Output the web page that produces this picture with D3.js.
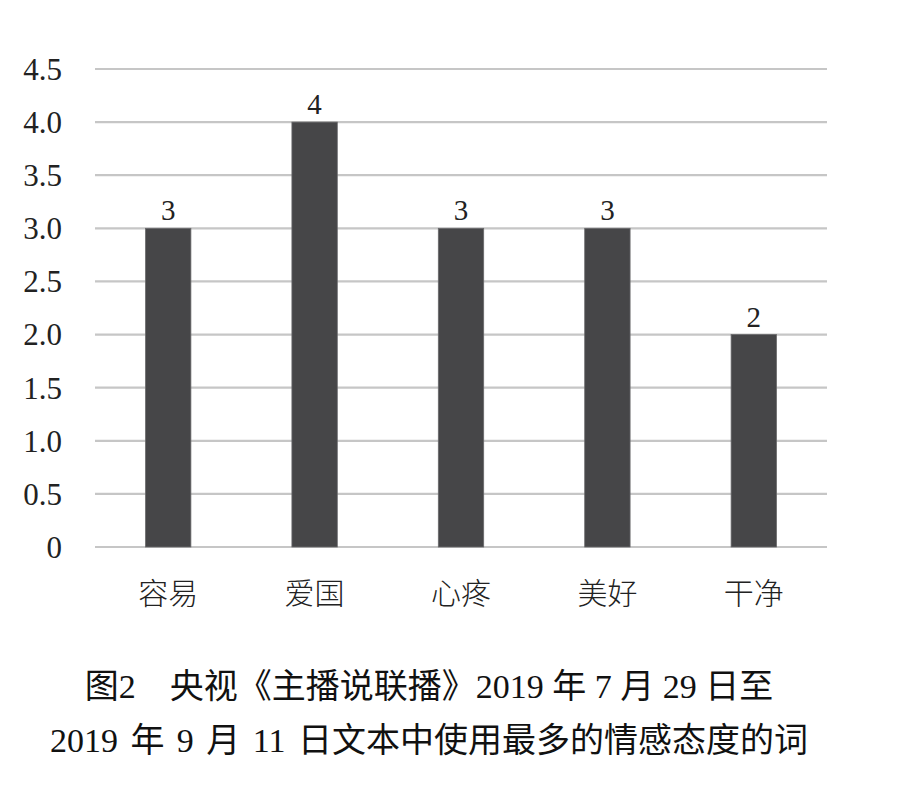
<!DOCTYPE html>
<html lang="zh">
<head>
<meta charset="UTF-8">
<title>情感态度词柱状图</title>
<script src="https://d3js.org/d3.v7.min.js"></script>
<style>
    body { margin: 0; background: #fff; }
    .tick-label { font-family: "Liberation Serif", "Times New Roman", Times, serif; font-size: 31px; fill: #222; }
    .value-label { font-family: "Liberation Serif", "Times New Roman", Times, serif; font-size: 29px; fill: #222; }
    .cat-label { font-family: "Noto Sans CJK SC", sans-serif; font-weight: 300; font-size: 30px; fill: #222; }
    .caption { font-family: "Liberation Serif", "Times New Roman", "Noto Sans CJK SC", serif; font-size: 34px; fill: #111; }
</style>
</head>
<body>
<svg width="920" height="788"></svg>
<script>
    // 数据
    const categories = ["容易", "爱国", "心疼", "美好", "干净"];
    const counts = [3, 4, 3, 3, 2];
    const yTicks = [0, 0.5, 1.0, 1.5, 2.0, 2.5, 3.0, 3.5, 4.0, 4.5];
    const captionLines = [
        "图2\u3000央视《主播说联播》2019 年 7 月 29 日至",
        "2019 年 9 月 11 日文本中使用最多的情感态度的词"
    ];

    const svg = d3.select("svg");
    const margin = { top: 69, right: 93, bottom: 241, left: 95 };
    const width = 920, height = 788;

    const x = d3.scaleBand()
        .domain(categories)
        .range([margin.left, width - margin.right])
        .paddingInner(0.69)
        .paddingOuter(0.345);

    const y = d3.scaleLinear()
        .domain([0, 4.5])
        .range([height - margin.bottom, margin.top]);

    // 网格线
    svg.append("g")
        .selectAll("line")
        .data(yTicks)
        .join("line")
        .attr("x1", margin.left)
        .attr("x2", width - margin.right)
        .attr("y1", d => y(d))
        .attr("y2", d => y(d))
        .attr("stroke", "#c6c6c6")
        .attr("stroke-width", 2.2);

    // y 轴刻度文字
    svg.append("g")
        .selectAll("text")
        .data(yTicks)
        .join("text")
        .attr("class", "tick-label")
        .attr("x", 62)
        .attr("y", d => y(d))
        .attr("dy", "0.35em")
        .attr("text-anchor", "end")
        .text(d => d === 0 ? "0" : d3.format(".1f")(d));

    // 柱子
    svg.append("g")
        .selectAll("rect")
        .data(counts)
        .join("rect")
        .attr("x", (d, i) => x(categories[i]))
        .attr("y", d => y(d))
        .attr("width", x.bandwidth())
        .attr("height", d => y(0) - y(d))
        .attr("fill", "#464648")
        .attr("stroke", "#6a6a6c")
        .attr("stroke-width", 0.8);

    // 数值标签
    svg.append("g")
        .selectAll("text")
        .data(counts)
        .join("text")
        .attr("class", "value-label")
        .attr("x", (d, i) => x(categories[i]) + x.bandwidth() / 2)
        .attr("y", d => y(d) - 8)
        .attr("text-anchor", "middle")
        .text(d => d);

    // 类别标签
    svg.append("g")
        .selectAll("text")
        .data(categories)
        .join("text")
        .attr("class", "cat-label")
        .attr("x", d => x(d) + x.bandwidth() / 2)
        .attr("y", 604)
        .attr("text-anchor", "middle")
        .text(d => d);

    // 图题
    svg.append("g")
        .selectAll("text")
        .data(captionLines)
        .join("text")
        .attr("class", "caption")
        .attr("x", 429)
        .attr("y", (d, i) => 698 + i * 54)
        .attr("text-anchor", "middle")
        .attr("word-spacing", (d, i) => i === 1 ? 4 : 0)
        .text(d => d);
</script>
</body>
</html>
